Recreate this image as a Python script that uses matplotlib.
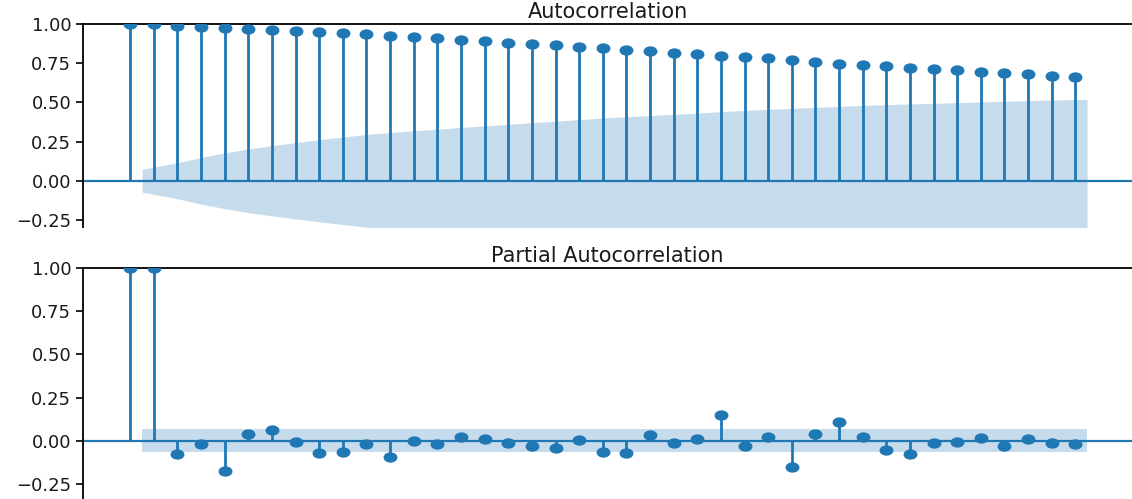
import numpy as np
import matplotlib.pyplot as plt
from matplotlib.path import Path
from matplotlib.transforms import Affine2D

lags = np.arange(41)

acf_vals = [1.000, 0.998, 0.989, 0.981, 0.976, 0.970, 0.964, 0.955, 0.951, 0.943,
            0.934, 0.925, 0.917, 0.909, 0.900, 0.892, 0.881, 0.872, 0.864, 0.855,
            0.845, 0.836, 0.826, 0.817, 0.807, 0.796, 0.788, 0.781, 0.770, 0.757,
            0.747, 0.740, 0.732, 0.721, 0.713, 0.705, 0.696, 0.685, 0.679, 0.668,
            0.660]

# upper edge of the ACF confidence band, lags 1..40
acf_band = [0.073, 0.115, 0.149, 0.178, 0.203, 0.224, 0.243, 0.262, 0.279, 0.296,
            0.308, 0.319, 0.329, 0.340, 0.350, 0.360, 0.370, 0.380, 0.390, 0.400,
            0.408, 0.416, 0.424, 0.432, 0.441, 0.449, 0.456, 0.462, 0.468, 0.474,
            0.481, 0.486, 0.490, 0.494, 0.498, 0.503, 0.507, 0.511, 0.515, 0.519]

pacf_vals = [1.000, 1.000, -0.075, -0.017, -0.172, 0.041, 0.064, -0.008, -0.071, -0.062,
             -0.017, -0.095, 0.002, -0.017, 0.023, 0.012, -0.012, -0.029, -0.042, 0.004,
             -0.062, -0.068, 0.037, -0.012, 0.010, 0.150, -0.028, 0.024, -0.151, 0.039,
             0.112, 0.025, -0.052, -0.077, -0.010, -0.006, 0.016, -0.029, 0.010, -0.013,
             -0.016]
pacf_band = 0.066

yticks = [-0.25, 0.00, 0.25, 0.50, 0.75, 1.00]

color = '#1f77b4'
# the reference is stretched sideways, so the dots are flat ellipses
ell = Path.unit_circle().transformed(Affine2D().scale(1.4, 1.0))


def corr_plot(ax, vals, lo, hi, title, ymin):
    x = lags.astype(float)
    ax.vlines(x, 0, vals, color=color, lw=2.0, zorder=3)
    ax.plot(x, vals, ls='none', marker=ell, ms=9, color=color, zorder=4)
    ax.axhline(0, color=color, lw=1.6, zorder=2)
    bx = x[1:].copy()
    bx[0] -= 0.5
    bx[-1] += 0.5
    ax.fill_between(bx, lo, hi, color=color, alpha=0.25, lw=0, zorder=1)
    ax.set_xlim(-2, 42.4)
    ax.set_ylim(ymin, 1.0)
    ax.set_yticks(yticks)
    ax.set_yticklabels(['%.2f' % v if v >= 0 else '\u2212%.2f' % -v for v in yticks])
    ax.set_xticks([])
    ax.set_title(title, fontsize=15, pad=4.5, color='#1a1a1a')
    ax.tick_params(axis='y', labelsize=13, length=5, width=1.2, labelcolor='#1a1a1a')
    for s in ['right', 'bottom']:
        ax.spines[s].set_visible(False)
    for s in ['left', 'top']:
        ax.spines[s].set_linewidth(1.3)


fig = plt.figure(figsize=(11.32, 4.99), dpi=100)
ax1 = fig.add_axes([0.0733, 0.5451, 0.9267, 0.4068])
ax2 = fig.add_axes([0.0733, 0.0, 0.9267, 0.4629])

band = np.array(acf_band)
corr_plot(ax1, acf_vals, -band, band, 'Autocorrelation', -0.295)
corr_plot(ax2, pacf_vals, -pacf_band, pacf_band, 'Partial Autocorrelation', -0.336)

fig.savefig('out.png', dpi=100)
